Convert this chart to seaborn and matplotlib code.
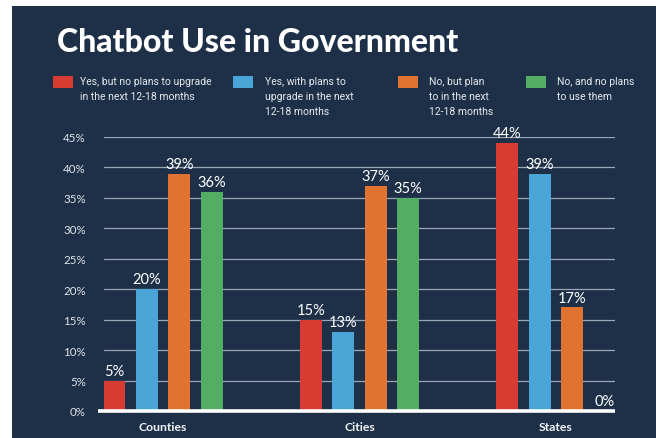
import matplotlib
matplotlib.use("Agg")
import matplotlib.pyplot as plt
import seaborn as sns
import pandas as pd
from matplotlib.patches import Rectangle

categories = ["Counties", "Cities", "States"]
series_names = [
    "Yes, but no plans to upgrade\nin the next 12-18 months",
    "Yes, with plans to\nupgrade in the next\n12-18 months",
    "No, but plan\nto in the next\n12-18 months",
    "No, and no plans\nto use them",
]
yes_no_upgrade = [5, 15, 44]
yes_upgrade = [20, 13, 39]
no_but_plan = [39, 37, 17]
no_no_plans = [36, 35, 0]
y_ticks = [0, 5, 10, 15, 20, 25, 30, 35, 40, 45]
tick_labels = [f"{t}%" for t in y_ticks]

colors = ["#d63c31", "#4ba4d6", "#e0732f", "#53ad63"]
navy = "#1e3048"

values = [yes_no_upgrade, yes_upgrade, no_but_plan, no_no_plans]
rows = []
for s, vals in zip(series_names, values):
    for c, v in zip(categories, vals):
        rows.append({"place": c, "answer": s, "value": v})
df = pd.DataFrame(rows)

sns.set_theme(style="white")
plt.rcParams["font.family"] = ["Lato", "DejaVu Sans"]

W, H = 656, 439
fig = plt.figure(figsize=(W / 100, H / 100), dpi=100, facecolor="white")
fig.patches.append(Rectangle((12 / W, 0), 1 - 12 / W, 1 - 7 / H, transform=fig.transFigure,
                             facecolor=navy, edgecolor="none", zorder=-5))

ax = fig.add_axes([104 / W, 1 - 412 / H, (615 - 104) / W, (412 - 138) / H])
ax.set_facecolor("none")
ax.set_zorder(2)

sns.barplot(data=df, x="place", y="value", hue="answer", order=categories,
            hue_order=series_names, palette=colors, width=0.662, gap=0.32,
            legend=False, ax=ax, saturation=1, edgecolor="none", zorder=3)

ax.set_xlim(-0.30, 2.30)
ax.set_ylim(0, 45)
ax.set_yticks(y_ticks)
ax.set_yticklabels(tick_labels)
ax.tick_params(axis="y", length=0, pad=13, labelsize=8.3, labelcolor="#dfe4ea")
ax.tick_params(axis="x", length=0, pad=7, labelsize=8.8, labelcolor="#f2f4f7")
for lab in ax.get_xticklabels():
    lab.set_fontweight("bold")
ax.set_xlabel("")
ax.set_ylabel("")
ax.grid(axis="y", color="#9aa5b5", linewidth=0.9, zorder=1)
ax.set_axisbelow(True)
for sp in ax.spines.values():
    sp.set_visible(False)
ax.plot([-0.012, 1.0], [0, 0], transform=ax.transAxes, color="white",
        linewidth=2.6, clip_on=False, zorder=5, solid_capstyle="butt")

for cont, vals in zip(ax.containers, values):
    ax.bar_label(cont, labels=[f"{v}%" for v in vals], padding=2,
                 color="white", fontsize=10.5, zorder=6)

fig.text(57 / W, 1 - 43 / H, "Chatbot Use in Government", color="white",
         fontsize=23, fontweight="black", va="center", ha="left")

sq_x = [53, 233, 398, 526]
txt_x = [80, 265, 429, 557]
for sx, tx, col, name in zip(sq_x, txt_x, colors, series_names):
    fig.patches.append(Rectangle((sx / W, 1 - 89 / H), 20 / W, 12 / H,
                                 transform=fig.transFigure, facecolor=col,
                                 edgecolor="none", zorder=2))
    fig.text(tx / W, 1 - 77 / H, name, color="#e6e9ee", fontsize=7.5,
             va="top", ha="left", linespacing=1.65,
             family=["Roboto", "DejaVu Sans"])

fig.savefig("out.png", dpi=100, facecolor="white")
